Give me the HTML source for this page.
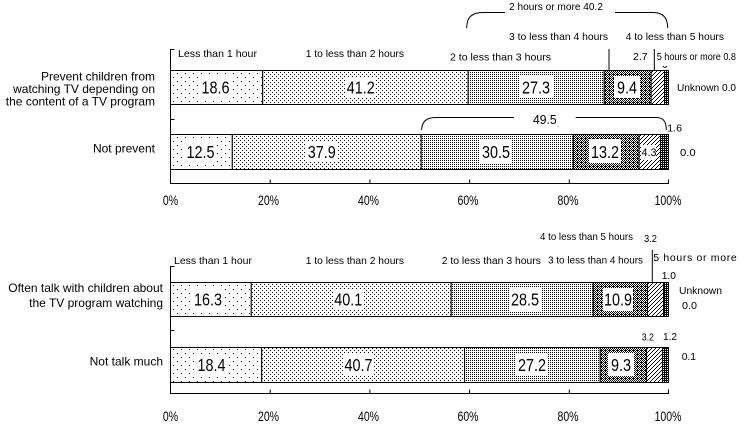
<!DOCTYPE html>
<html>
<head>
<meta charset="utf-8">
<style>
  html,body{margin:0;padding:0;background:#fff;}
  svg{display:block;}
  text{font-family:"Liberation Sans",Arial,sans-serif;fill:#000;}
  .a{font-size:10.5px;}
  .l{font-size:12px;}
</style>
</head>
<body>
<svg width="748" height="427" viewBox="0 0 748 427" xmlns="http://www.w3.org/2000/svg">
<defs>
  <pattern id="p1" width="8" height="8" patternUnits="userSpaceOnUse">
    <rect width="8" height="8" fill="#fff"/>
    <rect x="1" y="1" width="1" height="1" fill="#000"/>
    <rect x="5" y="5" width="1" height="1" fill="#000"/>
  </pattern>
  <pattern id="p2" width="4" height="4" patternUnits="userSpaceOnUse">
    <rect width="4" height="4" fill="#fff"/>
    <rect x="0" y="0" width="1" height="1" fill="#000"/>
    <rect x="2" y="2" width="1" height="1" fill="#000"/>
  </pattern>
  <pattern id="p3" width="2" height="2" patternUnits="userSpaceOnUse">
    <rect width="2" height="2" fill="#fff"/>
    <rect x="0" y="0" width="1" height="1" fill="#000"/>
  </pattern>
  <pattern id="p4" width="4" height="4" patternUnits="userSpaceOnUse">
    <rect width="4" height="4" fill="#fff"/>
    <rect x="0" y="0" width="1" height="1" fill="#000"/>
    <rect x="2" y="0" width="1" height="1" fill="#000"/>
    <rect x="1" y="1" width="1" height="1" fill="#000"/>
    <rect x="3" y="1" width="1" height="1" fill="#000"/>
    <rect x="0" y="2" width="1" height="1" fill="#000"/>
    <rect x="2" y="2" width="1" height="1" fill="#000"/>
    <rect x="1" y="3" width="1" height="1" fill="#000"/>
    <rect x="3" y="3" width="1" height="1" fill="#000"/>
    <rect x="1" y="2" width="1" height="1" fill="#000"/>
  </pattern>
  <pattern id="p5" width="4" height="4" patternUnits="userSpaceOnUse">
    <rect width="4" height="4" fill="#fff"/>
    <rect x="3" y="0" width="1" height="1" fill="#000"/>
    <rect x="2" y="1" width="1" height="1" fill="#000"/>
    <rect x="1" y="2" width="1" height="1" fill="#000"/>
    <rect x="0" y="3" width="1" height="1" fill="#000"/>
  </pattern>
  <pattern id="p6" width="2" height="2" patternUnits="userSpaceOnUse">
    <rect width="2" height="2" fill="#000"/>
    <rect x="1" y="1" width="1" height="1" fill="#fff"/>
  </pattern>
</defs>

<!-- ================= TOP CHART ================= -->
<g stroke="#000" stroke-width="1" fill="none">
  <line x1="170.5" y1="49" x2="170.5" y2="184"/>
  <line x1="170.5" y1="49.5" x2="174.5" y2="49.5"/>
  <line x1="170.5" y1="119.5" x2="174.5" y2="119.5"/>
  <line x1="170" y1="183.5" x2="669" y2="183.5"/>
  <line x1="270.2" y1="179.5" x2="270.2" y2="183.5"/>
  <line x1="369.9" y1="179.5" x2="369.9" y2="183.5"/>
  <line x1="469.6" y1="179.5" x2="469.6" y2="183.5"/>
  <line x1="569.3" y1="179.5" x2="569.3" y2="183.5"/>
  <line x1="668.5" y1="179.5" x2="668.5" y2="183.5"/>
</g>

<!-- top bar 1 -->
<g stroke="#000" stroke-width="1">
  <rect x="170.5" y="70.5" width="92.2" height="34" fill="url(#p1)"/>
  <rect x="262.7" y="70.5" width="205.4" height="34" fill="url(#p2)"/>
  <rect x="468.1" y="70.5" width="136.1" height="34" fill="url(#p3)"/>
  <rect x="604.2" y="70.5" width="46.9" height="34" fill="url(#p4)"/>
  <rect x="651.1" y="70.5" width="13.4" height="34" fill="url(#p5)"/>
  <rect x="664.5" y="70.5" width="4" height="34" fill="url(#p6)"/>
</g>
<!-- top bar 2 -->
<g stroke="#000" stroke-width="1">
  <rect x="170.5" y="134.5" width="61.8" height="35" fill="url(#p1)"/>
  <rect x="232.3" y="134.5" width="188.9" height="35" fill="url(#p2)"/>
  <rect x="421.2" y="134.5" width="152.1" height="35" fill="url(#p3)"/>
  <rect x="573.3" y="134.5" width="65.8" height="35" fill="url(#p4)"/>
  <rect x="639.1" y="134.5" width="21.4" height="35" fill="url(#p5)"/>
  <rect x="660.5" y="134.5" width="8" height="35" fill="url(#p6)"/>
</g>

<!-- value boxes top -->
<g fill="#fff">
  <rect x="200" y="77" width="31" height="21"/>
  <rect x="345" y="77" width="31" height="21"/>
  <rect x="519" y="76" width="34" height="22"/>
  <rect x="614" y="76" width="26" height="22"/>
  <rect x="185" y="141" width="31" height="21"/>
  <rect x="306" y="141" width="31" height="21"/>
  <rect x="480" y="139" width="32" height="24"/>
  <rect x="589" y="139" width="32" height="24"/>
  <rect x="641" y="145" width="15" height="15"/>
</g>
<g font-size="18">
  <text transform="translate(215.5,93.5) scale(0.8,1)" text-anchor="middle">18.6</text>
  <text transform="translate(360.7,93.5) scale(0.8,1)" text-anchor="middle">41.2</text>
  <text transform="translate(536,93.5) scale(0.8,1)" text-anchor="middle">27.3</text>
  <text transform="translate(627,93.5) scale(0.8,1)" text-anchor="middle">9.4</text>
  <text transform="translate(200.5,158) scale(0.8,1)" text-anchor="middle">12.5</text>
  <text transform="translate(321.7,158) scale(0.8,1)" text-anchor="middle">37.9</text>
  <text transform="translate(496,158) scale(0.8,1)" text-anchor="middle">30.5</text>
  <text transform="translate(605,158) scale(0.8,1)" text-anchor="middle">13.2</text>
</g>
<text x="649" y="156" font-size="11" text-anchor="middle" textLength="15" lengthAdjust="spacingAndGlyphs">4.3</text>

<!-- tick labels top -->
<g font-size="14">
  <text transform="translate(170.5,205) scale(0.75,1)" text-anchor="middle">0%</text>
  <text transform="translate(268.5,205) scale(0.75,1)" text-anchor="middle">20%</text>
  <text transform="translate(368.5,205) scale(0.75,1)" text-anchor="middle">40%</text>
  <text transform="translate(468,205) scale(0.75,1)" text-anchor="middle">60%</text>
  <text transform="translate(568,205) scale(0.75,1)" text-anchor="middle">80%</text>
  <text transform="translate(668,205) scale(0.75,1)" text-anchor="middle">100%</text>
</g>

<!-- left labels top -->
<text class="l" x="155" y="80.5" text-anchor="end">Prevent children from</text>
<text class="l" x="155" y="93" text-anchor="end">watching TV depending on</text>
<text class="l" x="155" y="105.5" text-anchor="end">the content of a TV program</text>
<text class="l" x="155" y="152.3" text-anchor="end">Not prevent</text>

<!-- annotations top -->
<text class="a" x="178" y="57" textLength="79" lengthAdjust="spacingAndGlyphs">Less than 1 hour</text>
<text class="a" x="305.7" y="57" textLength="98.3" lengthAdjust="spacingAndGlyphs">1 to less than 2 hours</text>
<text class="a" x="450" y="60.5" textLength="101" lengthAdjust="spacingAndGlyphs">2 to less than 3 hours</text>
<text class="a" x="509" y="39.8" textLength="99" lengthAdjust="spacingAndGlyphs">3 to less than 4 hours</text>
<text class="a" x="625.7" y="39.8" textLength="98.3" lengthAdjust="spacingAndGlyphs">4 to less than 5 hours</text>
<text class="a" x="633" y="60">2.7</text>
<text class="a" x="656.7" y="60" textLength="79.3" lengthAdjust="spacingAndGlyphs">5 hours or more 0.8</text>
<text class="a" x="677" y="91" textLength="59" lengthAdjust="spacingAndGlyphs">Unknown 0.0</text>
<text class="a" x="509" y="10" textLength="94" lengthAdjust="spacingAndGlyphs">2 hours or more 40.2</text>
<g stroke="#000" stroke-width="1" fill="none">
  <line x1="609" y1="49" x2="609" y2="70"/>
  <line x1="654.3" y1="49" x2="654.3" y2="70"/>
  <path d="M466.7,28 C466.7,18 471,12.5 483,12.5 L505,12.5"/>
  <path d="M615,12.5 L653,12.5 C663,12.5 667.7,18 667.7,28"/>
  <path d="M663,66 Q665,69 667,66"/>
  <path d="M421.7,130 C421.7,121 427,117.5 436,117.5 L514,117.5"/>
  <path d="M575.7,117.5 L656,117.5 C663,117.5 666.3,121 666.3,130"/>
</g>
<text x="544.8" y="124" font-size="13" text-anchor="middle" textLength="23.7" lengthAdjust="spacingAndGlyphs">49.5</text>
<text class="a" x="667.3" y="131.5" textLength="14.7" lengthAdjust="spacingAndGlyphs">1.6</text>
<text class="a" x="680" y="155.8" textLength="15.7" lengthAdjust="spacingAndGlyphs">0.0</text>

<!-- ================= BOTTOM CHART ================= -->
<g stroke="#000" stroke-width="1" fill="none">
  <line x1="170.5" y1="266" x2="170.5" y2="394"/>
  <line x1="170.5" y1="266.5" x2="174.5" y2="266.5"/>
  <line x1="170.5" y1="330.5" x2="174.5" y2="330.5"/>
  <line x1="170" y1="393.5" x2="669" y2="393.5"/>
  <line x1="270.2" y1="389.5" x2="270.2" y2="393.5"/>
  <line x1="369.9" y1="389.5" x2="369.9" y2="393.5"/>
  <line x1="469.6" y1="389.5" x2="469.6" y2="393.5"/>
  <line x1="569.3" y1="389.5" x2="569.3" y2="393.5"/>
  <line x1="668.5" y1="389.5" x2="668.5" y2="393.5"/>
</g>

<!-- bottom bar 1 -->
<g stroke="#000" stroke-width="1">
  <rect x="170.5" y="282.5" width="80.8" height="34" fill="url(#p1)"/>
  <rect x="251.3" y="282.5" width="199.9" height="34" fill="url(#p2)"/>
  <rect x="451.2" y="282.5" width="142" height="34" fill="url(#p3)"/>
  <rect x="593.2" y="282.5" width="54.4" height="34" fill="url(#p4)"/>
  <rect x="647.6" y="282.5" width="15.9" height="34" fill="url(#p5)"/>
  <rect x="663.5" y="282.5" width="5" height="34" fill="url(#p6)"/>
</g>
<!-- bottom bar 2 -->
<g stroke="#000" stroke-width="1">
  <rect x="170.5" y="347.5" width="91.2" height="35" fill="url(#p1)"/>
  <rect x="261.7" y="347.5" width="202.9" height="35" fill="url(#p2)"/>
  <rect x="464.6" y="347.5" width="135.6" height="35" fill="url(#p3)"/>
  <rect x="600.2" y="347.5" width="46.4" height="35" fill="url(#p4)"/>
  <rect x="646.6" y="347.5" width="15.9" height="35" fill="url(#p5)"/>
  <rect x="662.5" y="347.5" width="6" height="35" fill="url(#p6)"/>
</g>

<g fill="#fff">
  <rect x="193" y="289" width="31" height="21"/>
  <rect x="333" y="289" width="31" height="21"/>
  <rect x="509" y="288" width="32" height="23"/>
  <rect x="603" y="288" width="30" height="23"/>
  <rect x="196" y="354" width="31" height="21"/>
  <rect x="343" y="354" width="31" height="21"/>
  <rect x="516" y="353" width="32" height="23"/>
  <rect x="608" y="353" width="26" height="23"/>
</g>
<g font-size="18">
  <text transform="translate(208,305.5) scale(0.8,1)" text-anchor="middle">16.3</text>
  <text transform="translate(348.3,305.5) scale(0.8,1)" text-anchor="middle">40.1</text>
  <text transform="translate(525,305.5) scale(0.8,1)" text-anchor="middle">28.5</text>
  <text transform="translate(618,305.5) scale(0.8,1)" text-anchor="middle">10.9</text>
  <text transform="translate(211.5,371) scale(0.8,1)" text-anchor="middle">18.4</text>
  <text transform="translate(358.5,371) scale(0.8,1)" text-anchor="middle">40.7</text>
  <text transform="translate(532,371) scale(0.8,1)" text-anchor="middle">27.2</text>
  <text transform="translate(621,371) scale(0.8,1)" text-anchor="middle">9.3</text>
</g>

<g font-size="14">
  <text transform="translate(170.5,421) scale(0.75,1)" text-anchor="middle">0%</text>
  <text transform="translate(268.5,421) scale(0.75,1)" text-anchor="middle">20%</text>
  <text transform="translate(368.5,421) scale(0.75,1)" text-anchor="middle">40%</text>
  <text transform="translate(468,421) scale(0.75,1)" text-anchor="middle">60%</text>
  <text transform="translate(568,421) scale(0.75,1)" text-anchor="middle">80%</text>
  <text transform="translate(668,421) scale(0.75,1)" text-anchor="middle">100%</text>
</g>

<text class="l" x="163" y="291.8" text-anchor="end">Often talk with children about</text>
<text class="l" x="163" y="306.8" text-anchor="end">the TV program watching</text>
<text class="l" x="163" y="365.3" text-anchor="end">Not talk much</text>

<text class="a" x="174" y="263.8" textLength="78" lengthAdjust="spacingAndGlyphs">Less than 1 hour</text>
<text class="a" x="305.7" y="263.8" textLength="98.3" lengthAdjust="spacingAndGlyphs">1 to less than 2 hours</text>
<text class="a" x="441.7" y="263.8" textLength="99.3" lengthAdjust="spacingAndGlyphs">2 to less than 3 hours</text>
<text class="a" x="548" y="263.3" textLength="95" lengthAdjust="spacingAndGlyphs">3 to less than 4 hours</text>
<text class="a" x="540" y="239.8" textLength="93" lengthAdjust="spacingAndGlyphs">4 to less than 5 hours</text>
<text class="a" x="644" y="242" textLength="13" lengthAdjust="spacingAndGlyphs">3.2</text>
<text class="a" x="653.3" y="261" textLength="83.4" lengthAdjust="spacing">5 hours or more</text>
<text class="a" x="661.7" y="278.8" textLength="14.3" lengthAdjust="spacingAndGlyphs">1.0</text>
<text class="a" x="679" y="293.8" textLength="43" lengthAdjust="spacingAndGlyphs">Unknown</text>
<text class="a" x="682" y="308.8" textLength="15" lengthAdjust="spacingAndGlyphs">0.0</text>
<line x1="652.3" y1="250" x2="652.3" y2="282" stroke="#000" stroke-width="1"/>

<text class="a" x="641.7" y="340.5" textLength="12.3" lengthAdjust="spacingAndGlyphs">3.2</text>
<text class="a" x="663" y="340" textLength="14" lengthAdjust="spacingAndGlyphs">1.2</text>
<text class="a" x="681.7" y="359.8" textLength="14.3" lengthAdjust="spacingAndGlyphs">0.1</text>
</svg>
</body>
</html>
